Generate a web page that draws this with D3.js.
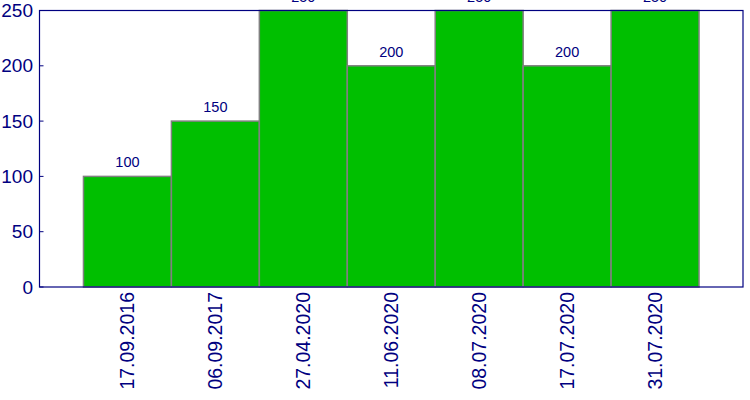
<!DOCTYPE html>
<html>
<head>
<meta charset="utf-8">
<script src="https://cdn.jsdelivr.net/npm/d3@7"></script>
<style>
  body { margin: 0; background: #fff; }
  text { font-family: "Liberation Sans", Arial, sans-serif; fill: #000080; }
</style>
</head>
<body>
<svg id="body" width="750" height="400"></svg>
<script>
let dates = ["17.09.2016", "06.09.2017", "27.04.2020", "11.06.2020", "08.07.2020", "17.07.2020", "31.07.2020"];
let values = [100, 150, 250, 200, 250, 200, 250];
let yTicks = [0, 50, 100, 150, 200, 250];

let svg = d3.select("#body");
let plotLeft = 39.5, plotRight = 743, plotTop = 10.5, plotBottom = 287;

let xScale = d3.scaleBand()
    .domain(dates)
    .range([plotLeft, plotRight])
    .paddingInner(0)
    .paddingOuter(0.5);

let yScale = d3.scaleLinear()
    .domain([0, 250])
    .range([plotBottom, plotTop]);

let data = dates.map((d, i) => ({date: d, value: values[i]}));

// bars
svg.selectAll("rect.bar")
    .data(data)
    .enter()
    .append("rect")
    .attr("class", "bar")
    .attr("x", d => xScale(d.date))
    .attr("y", d => yScale(d.value))
    .attr("width", xScale.bandwidth())
    .attr("height", d => yScale(0) - yScale(d.value))
    .style("fill", "#00bf00")
    .style("stroke", "#808080")
    .style("stroke-width", 1.5);

// value labels
svg.selectAll("text.val")
    .data(data)
    .enter()
    .append("text")
    .attr("class", "val")
    .attr("x", d => xScale(d.date) + xScale.bandwidth() / 2)
    .attr("y", d => yScale(d.value) - 9)
    .attr("text-anchor", "middle")
    .style("font-size", "14.5px")
    .text(d => d.value);

// frame
svg.append("rect")
    .attr("x", plotLeft)
    .attr("y", plotTop)
    .attr("width", plotRight - plotLeft)
    .attr("height", plotBottom - plotTop)
    .style("fill", "none")
    .style("stroke", "#000080")
    .style("stroke-width", 1.2);

// y axis ticks (inward) and labels
let yAxis = svg.append("g").attr("id", "yAxis");
yAxis.selectAll("line")
    .data(yTicks)
    .enter()
    .append("line")
    .attr("x1", plotLeft)
    .attr("x2", plotLeft + 4)
    .attr("y1", d => yScale(d))
    .attr("y2", d => yScale(d))
    .style("stroke", "#000080");
yAxis.selectAll("text")
    .data(yTicks)
    .enter()
    .append("text")
    .attr("x", 33)
    .attr("y", d => yScale(d))
    .attr("dy", "0.35em")
    .attr("text-anchor", "end")
    .style("font-size", "19px")
    .text(d => d);

// x labels, rotated
svg.append("g")
    .attr("id", "xAxis")
    .selectAll("text")
    .data(dates)
    .enter()
    .append("text")
    .attr("transform", d => `translate(${xScale(d) + xScale.bandwidth() / 2}, ${plotBottom + 5}) rotate(-90)`)
    .attr("dy", "0.35em")
    .attr("text-anchor", "end")
    .style("font-size", "19.5px")
    .text(d => d);
</script>
</body>
</html>
